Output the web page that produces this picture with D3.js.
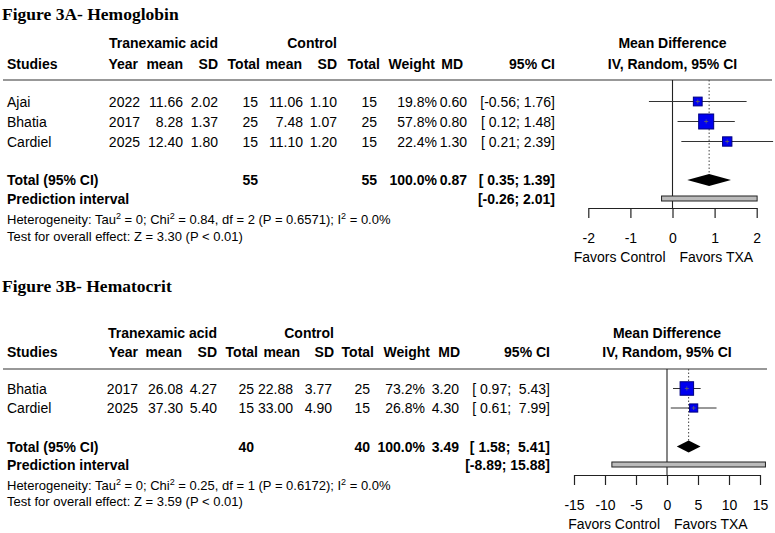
<!DOCTYPE html>
<html>
<head>
<meta charset="utf-8">
<script src="https://d3js.org/d3.v7.min.js"></script>
<style>
  body { margin: 0; background: #fff; }
  text { white-space: pre; }
</style>
</head>
<body>
<script>
// ---- Figure 3A data (Hemoglobin)
var studiesA = ["Ajai", "Bhatia", "Cardiel"];
var yearA = [2022, 2017, 2025];
var txaMeanA = [11.66, 8.28, 12.40];
var txaSdA = [2.02, 1.37, 1.80];
var txaNA = [15, 25, 15];
var ctlMeanA = [11.06, 7.48, 11.10];
var ctlSdA = [1.10, 1.07, 1.20];
var ctlNA = [15, 25, 15];
var weightA = [19.8, 57.8, 22.4];
var mdA = [0.60, 0.80, 1.30];
var loA = [-0.56, 0.12, 0.21];
var hiA = [1.76, 1.48, 2.39];
var totalNA = [55, 55];
var pooledA = [0.87, 0.35, 1.39];   // MD, lower, upper
var predA = [-0.26, 2.01];
var hetA = ["0", "0.84", "2", "0.6571", "0.0%"];  // tau2, chi2, df, P, I2
var testA = ["3.30", "< 0.01"];
var ticksA = [-2, -1, 0, 1, 2];

// ---- Figure 3B data (Hematocrit)
var studiesB = ["Bhatia", "Cardiel"];
var yearB = [2017, 2025];
var txaMeanB = [26.08, 37.30];
var txaSdB = [4.27, 5.40];
var txaNB = [25, 15];
var ctlMeanB = [22.88, 33.00];
var ctlSdB = [3.77, 4.90];
var ctlNB = [25, 15];
var weightB = [73.2, 26.8];
var mdB = [3.20, 4.30];
var loB = [0.97, 0.61];
var hiB = [5.43, 7.99];
var totalNB = [40, 40];
var pooledB = [3.49, 1.58, 5.41];
var predB = [-8.89, 15.88];
var hetB = ["0", "0.25", "1", "0.6172", "0.0%"];
var testB = ["3.59", "< 0.01"];
var ticksB = [-15, -10, -5, 0, 5, 10, 15];

var W = 775, H = 533;
var sans = "'Liberation Sans', Arial, sans-serif";

var svg = d3.select("body").append("svg")
    .attr("width", W)
    .attr("height", H)
    .style("font-family", sans)
    .style("font-size", "14px");

var loc = d3.formatLocale({ decimal: ".", thousands: ",", grouping: [3], currency: ["", ""], minus: "-" });
var f2 = loc.format(".2f"), f1 = loc.format(".1f");

function ci(lo, hi, wl, wh) {
  return "[" + f2(lo).padStart(wl) + "; " + f2(hi).padStart(wh) + "]";
}

function forest(d, L) {
  var g = svg.append("g");
  var x = d3.scaleLinear().domain(d3.extent(d.ticks)).range(L.range);
  var box = d3.scaleSqrt().domain([0, d3.max(d.weight)]).range([0, L.maxBox]);
  var c = L.cols, hc = L.hcols;

  g.append("text")
      .attr("x", 2).attr("y", L.titleY)
      .style("font-family", "'Liberation Serif', 'Times New Roman', serif")
      .style("font-weight", "bold")
      .style("font-size", "17.5px")
      .text(d.title);

  // header
  var hd = g.append("g").style("font-weight", "bold").attr("text-anchor", "end");
  hd.append("text").attr("x", hc.sd1).attr("y", L.head1Y).text("Tranexamic acid");
  hd.append("text").attr("x", hc.sd2).attr("y", L.head1Y).text("Control");
  hd.append("text").attr("x", 7).attr("y", L.head2Y).attr("text-anchor", "start").text("Studies");
  [["Year", "year"], ["mean", "m1"], ["SD", "sd1"], ["Total", "n1"], ["mean", "m2"],
   ["SD", "sd2"], ["Total", "n2"], ["Weight", "w"], ["MD", "md"], ["95% CI", "ci"]]
    .forEach(function(h) {
      hd.append("text").attr("x", hc[h[1]]).attr("y", L.head2Y).text(h[0]);
    });
  var mid = (L.range[0] + L.range[1]) / 2;
  hd.append("text").attr("x", mid).attr("y", L.head1Y).attr("text-anchor", "middle").text("Mean Difference");
  hd.append("text").attr("x", mid).attr("y", L.head2Y).attr("text-anchor", "middle").text("IV, Random, 95% CI");

  g.append("line")
      .attr("x1", 3).attr("x2", L.lineEnd)
      .attr("y1", L.lineY).attr("y2", L.lineY)
      .attr("stroke", "#333").attr("stroke-width", 1.2);

  // study rows
  d.studies.forEach(function(s, i) {
    var y = L.rowsY[i] + 5;
    g.append("text").attr("x", 7).attr("y", y).text(s);
    var vals = [
      ["year", d.year[i]], ["m1", f2(d.txaMean[i])], ["sd1", f2(d.txaSd[i])], ["n1", d.txaN[i]],
      ["m2", f2(d.ctlMean[i])], ["sd2", f2(d.ctlSd[i])], ["n2", d.ctlN[i]],
      ["w", f1(d.weight[i]) + "%"], ["md", f2(d.md[i])], ["ci", ci(d.lo[i], d.hi[i], L.wl, L.wh)]
    ];
    vals.forEach(function(v) {
      g.append("text").attr("x", c[v[0]]).attr("y", y).attr("text-anchor", "end").text(v[1]);
    });
  });

  // total + prediction rows
  var tb = g.append("g").style("font-weight", "bold");
  var ty = L.totalY + 5, py = L.predY + 5;
  tb.append("text").attr("x", 7).attr("y", ty).text("Total (95% CI)");
  tb.append("text").attr("x", 7).attr("y", py).text("Prediction interval");
  [["n1", d.totalN[0]], ["n2", d.totalN[1]], ["w", "100.0%"], ["md", f2(d.pooled[0])],
   ["ci", ci(d.pooled[1], d.pooled[2], L.wl, L.wh)]].forEach(function(v) {
    tb.append("text").attr("x", c[v[0]]).attr("y", ty).attr("text-anchor", "end").text(v[1]);
  });
  tb.append("text").attr("x", c.ci).attr("y", py).attr("text-anchor", "end")
      .text(ci(d.pred[0], d.pred[1], L.wl, L.wh));

  // heterogeneity lines
  var het = g.append("text").attr("x", 7).attr("y", L.hetY).style("font-size", "13px");
  var sup = function(t) { t.append("tspan").attr("dy", -5).style("font-size", "9px").text("2"); };
  het.append("tspan").text("Heterogeneity: Tau");
  sup(het);
  het.append("tspan").attr("dy", 5).text(" = " + d.het[0] + "; Chi");
  sup(het);
  het.append("tspan").attr("dy", 5).text(" = " + d.het[1] + ", df = " + d.het[2] + " (P = " + d.het[3] + "); I");
  sup(het);
  het.append("tspan").attr("dy", 5).text(" = " + d.het[4]);
  g.append("text").attr("x", 7).attr("y", L.testY).style("font-size", "13px")
      .text("Test for overall effect: Z = " + d.test[0] + " (P " + d.test[1] + ")");

  // plot: zero line and pooled dotted line
  g.append("line")
      .attr("x1", x(0)).attr("x2", x(0))
      .attr("y1", L.lineY).attr("y2", L.axisY)
      .attr("stroke", "#222").attr("stroke-width", 1.1);
  g.append("line")
      .attr("x1", x(d.pooled[0])).attr("x2", x(d.pooled[0]))
      .attr("y1", L.lineY).attr("y2", L.totalY - 6)
      .attr("stroke", "#444").attr("stroke-dasharray", "1.5,2");

  // study CIs and boxes
  var rows = g.append("g").selectAll("g")
    .data(d.studies.map(function(s, i) { return i; }))
    .enter().append("g");
  rows.append("line")
      .attr("x1", function(i) { return x(d.lo[i]); })
      .attr("x2", function(i) { return x(d.hi[i]); })
      .attr("y1", function(i) { return L.rowsY[i]; })
      .attr("y2", function(i) { return L.rowsY[i]; })
      .attr("stroke", "#333").attr("stroke-width", 1);
  rows.append("rect")
      .attr("x", function(i) { return x(d.md[i]) - box(d.weight[i]) / 2; })
      .attr("y", function(i) { return L.rowsY[i] - box(d.weight[i]) / 2; })
      .attr("width", function(i) { return box(d.weight[i]); })
      .attr("height", function(i) { return box(d.weight[i]); })
      .attr("fill", "#0000f0").attr("stroke", "#000080").attr("stroke-width", 1);
  rows.append("path")
      .attr("d", function(i) {
        var cx = x(d.md[i]), cy = L.rowsY[i];
        return "M" + (cx - 2) + "," + cy + "H" + (cx + 2) + "M" + cx + "," + (cy - 2) + "V" + (cy + 2);
      })
      .attr("stroke", "#666").attr("stroke-width", 0.8);

  // pooled diamond
  g.append("path")
      .attr("d", "M" + x(d.pooled[1]) + "," + L.totalY +
                 "L" + x(d.pooled[0]) + "," + (L.totalY - 6) +
                 "L" + x(d.pooled[2]) + "," + L.totalY +
                 "L" + x(d.pooled[0]) + "," + (L.totalY + 6) + "Z")
      .attr("fill", "#000");

  // prediction interval bar
  g.append("rect")
      .attr("x", x(d.pred[0])).attr("y", L.predY - 2.5)
      .attr("width", x(d.pred[1]) - x(d.pred[0])).attr("height", 5)
      .attr("fill", "#bbb").attr("stroke", "#222").attr("stroke-width", 1);

  // axis
  var ax = g.append("g")
      .attr("transform", "translate(0," + L.axisY + ")")
      .call(d3.axisBottom(x).tickValues(d.ticks).tickSize(10).tickSizeOuter(0).tickPadding(15)
            .tickFormat(loc.format("d")));
  ax.attr("font-family", sans).attr("font-size", 14);
  ax.selectAll("path, line").attr("stroke", "#222").attr("stroke-width", 1.2);

  g.append("text").attr("x", x(0) - 7).attr("y", L.axisY + 54).attr("text-anchor", "end").text("Favors Control");
  g.append("text").attr("x", x(0) + 7).attr("y", L.axisY + 54).text("Favors TXA");
}

forest({
  title: "Figure 3A- Hemoglobin",
  studies: studiesA, year: yearA, txaMean: txaMeanA, txaSd: txaSdA, txaN: txaNA,
  ctlMean: ctlMeanA, ctlSd: ctlSdA, ctlN: ctlNA, weight: weightA, md: mdA,
  lo: loA, hi: hiA, totalN: totalNA, pooled: pooledA, pred: predA,
  het: hetA, test: testA, ticks: ticksA
}, {
  titleY: 20, head1Y: 48, head2Y: 69, lineY: 80, lineEnd: 772,
  rowsY: [101.5, 121.5, 141.5], totalY: 180, predY: 198.5, hetY: 223.5, testY: 241,
  axisY: 208, range: [588.3, 756.7], maxBox: 15, wl: 5, wh: 4,
  cols:  { year: 140, m1: 183, sd1: 218, n1: 258, m2: 303, sd2: 337, n2: 377, w: 437, md: 467, ci: 555 },
  hcols: { year: 138, m1: 183, sd1: 218, n1: 260, m2: 302, sd2: 337, n2: 380, w: 435, md: 463, ci: 555 }
});

forest({
  title: "Figure 3B- Hematocrit",
  studies: studiesB, year: yearB, txaMean: txaMeanB, txaSd: txaSdB, txaN: txaNB,
  ctlMean: ctlMeanB, ctlSd: ctlSdB, ctlN: ctlNB, weight: weightB, md: mdB,
  lo: loB, hi: hiB, totalN: totalNB, pooled: pooledB, pred: predB,
  het: hetB, test: testB, ticks: ticksB
}, {
  titleY: 292, head1Y: 338, head2Y: 357, lineY: 369, lineEnd: 767,
  rowsY: [388.5, 408], totalY: 446.5, predY: 464.5, hetY: 489.5, testY: 506,
  axisY: 475, range: [574, 760], maxBox: 13.5, wl: 5, wh: 5,
  cols:  { year: 138, m1: 183, sd1: 217, n1: 254, m2: 293, sd2: 332, n2: 370, w: 425, md: 459, ci: 550 },
  hcols: { year: 138, m1: 182, sd1: 217, n1: 258, m2: 300, sd2: 334, n2: 374, w: 430, md: 460, ci: 550 }
});
</script>
</body>
</html>
